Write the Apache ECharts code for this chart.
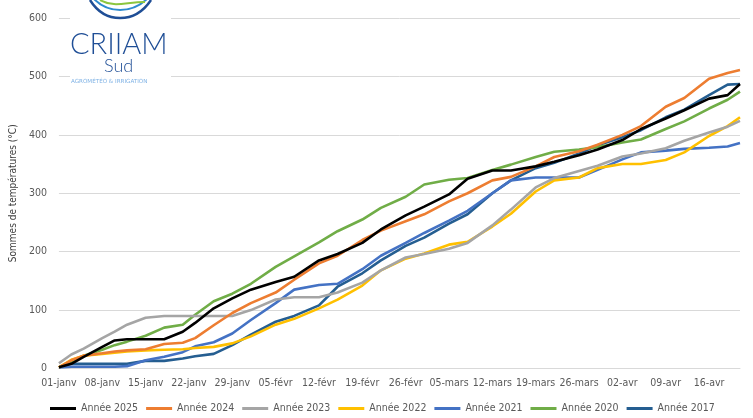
<!DOCTYPE html>
<html>
<head>
<meta charset="utf-8">
<script src="https://cdn.jsdelivr.net/npm/echarts@6/dist/echarts.min.js"></script>
<style>
html,body{margin:0;padding:0;background:#fff;}
#chart{width:753px;height:418px;}
</style>
</head>
<body>
<div id="chart"></div>
<script>
// Day index since 1 January (sample days)
const days = [0,2,4,7,9,11,14,17,20,22,25,28,31,35,38,42,45,49,52,56,59,63,66,70,73,77,80,84,87,91,94,98,101,105,108,110];
// Tick labels every 7 days
const tickLabels = ['01-janv','08-janv','15-janv','22-janv','29-janv','05-févr','12-févr','19-févr','26-févr','05-mars','12-mars','19-mars','26-mars','02-avr','09-avr','16-avr'];

const y2025 = [2,8,20,37,48,50,50,50,63,78,103,120,135,148,157,185,196,215,238,262,277,298,325,339,339,346,354,365,375,391,410,428,442,462,468,487];
const y2024 = [2,14,22,26,29,31,33,42,44,52,74,95,112,130,152,180,193,220,236,252,264,286,300,322,328,346,362,372,383,400,415,448,463,496,506,511];
const y2023 = [9,24,34,52,63,75,87,90,90,90,90,90,100,118,122,122,130,147,168,190,196,205,215,245,272,310,326,338,347,363,368,377,390,404,414,424];
const y2022 = [2,15,22,25,27,29,31,32,33,35,37,43,55,75,85,103,118,142,168,188,197,212,217,243,265,303,322,327,343,350,350,357,370,398,415,430];
const y2021 = [2,3,3,3,3,4,14,20,28,38,45,60,83,112,135,143,145,170,193,215,232,253,270,300,322,327,327,327,340,358,370,373,376,378,380,386];
const y2020 = [2,12,22,32,40,46,56,70,75,92,115,128,145,174,192,216,235,255,275,294,315,323,326,340,349,362,371,375,379,387,392,410,423,445,460,474];
const y2017 = [2,8,8,8,8,8,13,13,17,21,25,40,58,80,90,108,140,163,185,210,224,248,264,300,322,343,352,368,382,396,408,430,443,468,486,487];

const seriesNames = ['Année 2025','Année 2024','Année 2023','Année 2022','Année 2021','Année 2020','Année 2017'];
const seriesValues = [y2025,y2024,y2023,y2022,y2021,y2020,y2017];
const colors = ['#000000','#ED7D31','#A5A5A5','#FFC000','#4472C4','#70AD47','#255E91'];

const font = "'DejaVu Sans Condensed', Roboto, sans-serif";

const chart = echarts.init(document.getElementById('chart'));
chart.setOption({
  animation:false,
  backgroundColor:'#ffffff',
  color:colors,
  grid:{left:56,right:13,top:18,bottom:49.5},
  legend:{
    top:398, left:45, width:708,
    itemWidth:26, itemHeight:3, itemGap:8,
    icon:'rect',
    textStyle:{color:'#595959',fontSize:10.5,fontFamily:font},
    data:seriesNames
  },
  xAxis:{
    type:'value', min:0, max:110, interval:7,
    axisLine:{show:true,lineStyle:{color:'#d9d9d9'}},
    axisTick:{show:false},
    splitLine:{show:false},
    axisLabel:{
      color:'#595959', fontSize:10.5, fontFamily:font, margin:9,
      showMaxLabel:false,
      formatter:function(v){ const i=Math.round(v/7); return (v%7===0 && tickLabels[i])?tickLabels[i]:''; }
    }
  },
  yAxis:{
    type:'value', min:0, max:600, interval:100,
    name:'Sommes de températures (°C)', nameLocation:'middle', nameGap:39,
    nameTextStyle:{color:'#404040',fontSize:10,fontFamily:font},
    axisLine:{show:false}, axisTick:{show:false},
    splitLine:{lineStyle:{color:'#d9d9d9',width:1}},
    axisLabel:{color:'#595959',fontSize:10.5,fontFamily:font,margin:12}
  },
  series: seriesNames.map((n,k)=>({
    name:n, type:'line', showSymbol:false, symbol:'none',
    lineStyle:{width:2.6,color:colors[k]},
    itemStyle:{color:colors[k]},
    z: 10-k,
    data: days.map((d,i)=>[d, seriesValues[k][i]])
  })),
  graphic:[
    {type:'rect', shape:{x:70,y:0,width:101,height:88}, style:{fill:'#ffffff'}, z:100},
    {type:'bezierCurve', shape:{x1:90,y1:0,cpx1:105,cpy1:24,cpx2:135,cpy2:24,x2:151,y2:0}, style:{stroke:'#1f4e96',lineWidth:2.5,fill:null}, z:101},
    {type:'bezierCurve', shape:{x1:93,y1:-2,cpx1:108,cpy1:14,cpx2:132,cpy2:14,x2:148,y2:-2}, style:{stroke:'#2e8bcf',lineWidth:2,fill:null}, z:101},
    {type:'bezierCurve', shape:{x1:100,y1:0,cpx1:115,cpy1:8,cpx2:125,cpy2:2,x2:145,y2:2}, style:{stroke:'#8cc63f',lineWidth:2,fill:null}, z:101},
    {type:'text', left:70, top:30, style:{text:'CRIIAM', fill:'#1f4e96', font:"300 29px Lato, 'Noto Sans', sans-serif"}, z:101},
    {type:'text', left:104, top:57, style:{text:'Sud', fill:'#1f4e96', font:"300 18px Lato, 'Noto Sans', sans-serif"}, z:101},
    {type:'text', left:71, top:79, style:{text:'AGROMÉTÉO & IRRIGATION', fill:'#7fb2e5', font:"normal 5.6px 'DejaVu Sans', sans-serif"}, z:101}
  ]
});
</script>
</body>
</html>
